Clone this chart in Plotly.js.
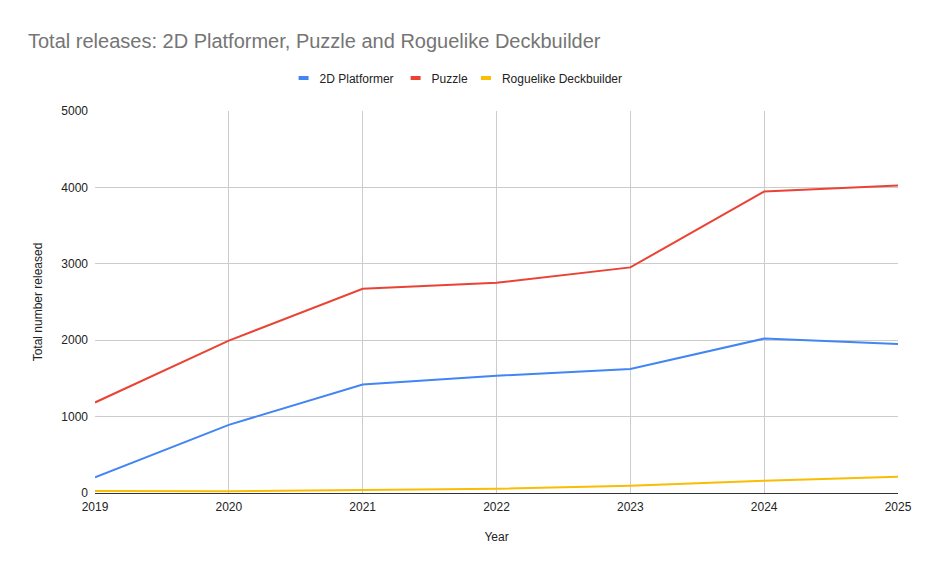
<!DOCTYPE html>
<html>
<head>
<meta charset="utf-8">
<script src="https://cdn.plot.ly/plotly-3.0.1.min.js"></script>
<style>html,body{margin:0;padding:0;background:#fff;}#chart{width:927px;height:574px;}</style>
</head>
<body>
<div id="chart"></div>
<script>
var years = [2019, 2020, 2021, 2022, 2023, 2024, 2025];
var platformer = [206, 892, 1421, 1535, 1623, 2021, 1951];
var puzzle = [1185, 1995, 2673, 2752, 2953, 3946, 4025];
var roguelike = [26, 24, 39, 56, 94, 161, 214];
var seriesNames = ["2D Platformer", "Puzzle", "Roguelike Deckbuilder"];
var seriesColors = ["#4285F4", "#EA4335", "#FBBC04"];
var yTicks = [0, 1000, 2000, 3000, 4000, 5000];

var FONT = "Liberation Sans, Arial, sans-serif";
var allSeries = [platformer, puzzle, roguelike];
var traces = allSeries.map(function (vals, i) {
  return {
    x: years, y: vals, type: "scatter", mode: "lines",
    name: seriesNames[i],
    line: {color: seriesColors[i], width: 2},
    hoverinfo: "x+y+name"
  };
});

var layout = {
  width: 927, height: 574,
  paper_bgcolor: "#ffffff", plot_bgcolor: "#ffffff",
  margin: {l: 95, r: 29, t: 111, b: 81},
  font: {family: FONT, size: 12, color: "#222222"},
  title: {
    text: "Total releases: 2D Platformer, Puzzle and Roguelike Deckbuilder",
    font: {family: FONT, size: 20, color: "#757575"},
    x: 28 / 927, xanchor: "left", xref: "container",
    y: 1 - 41 / 574, yref: "container", yanchor: "middle"
  },
  showlegend: true,
  legend: {
    orientation: "h", x: 0.499, xanchor: "center", xref: "container",
    y: 1 - 78 / 574, yref: "container", yanchor: "middle",
    font: {family: FONT, size: 12, color: "#222222"},
    itemwidth: 30, bgcolor: "rgba(0,0,0,0)"
  },
  xaxis: {
    range: [2019, 2025],
    tickmode: "array", tickvals: years, ticktext: years.map(String),
    showgrid: true, gridcolor: "#cccccc", gridwidth: 1,
    zeroline: false,
    showline: true, linecolor: "#333333", linewidth: 1,
    ticks: "", ticklen: 0, ticklabelstandoff: 3,
    tickfont: {family: FONT, size: 12, color: "#222222"},
    title: {text: "Year", font: {family: FONT, size: 12, color: "#222222"}, standoff: 19},
    fixedrange: true
  },
  yaxis: {
    range: [0, 5000],
    tickmode: "array", tickvals: yTicks, ticktext: yTicks.map(String),
    showgrid: true, gridcolor: "#cccccc", gridwidth: 1,
    zeroline: false, showline: false,
    ticks: "", ticklen: 0, ticklabelstandoff: 6,
    tickfont: {family: FONT, size: 12, color: "#222222"},
    title: {text: "Total number released", font: {family: FONT, size: 12, color: "#222222"}, standoff: 16},
    fixedrange: true
  }
};

Plotly.newPlot("chart", traces, layout, {displayModeBar: false, staticPlot: true}).then(function (gd) {
  // Google-Sheets-like short thick legend swatches with tighter item spacing
  var paths = gd.querySelectorAll(".legend .legendlines path");
  paths.forEach(function (p) {
    p.setAttribute("d", "M19,0h10");
    p.style.strokeWidth = "4px";
  });
  var items = gd.querySelectorAll(".legend .traces");
  var shifts = [0, -7, -18];
  items.forEach(function (g, i) {
    var t = g.getAttribute("transform") || "";
    var m = t.match(/translate\(\s*([-\d.]+)[ ,]+([-\d.]+)\s*\)/);
    if (m && shifts[i] !== undefined) {
      g.setAttribute("transform", "translate(" + (parseFloat(m[1]) + shifts[i]) + "," + m[2] + ")");
    }
  });
});
</script>
</body>
</html>
